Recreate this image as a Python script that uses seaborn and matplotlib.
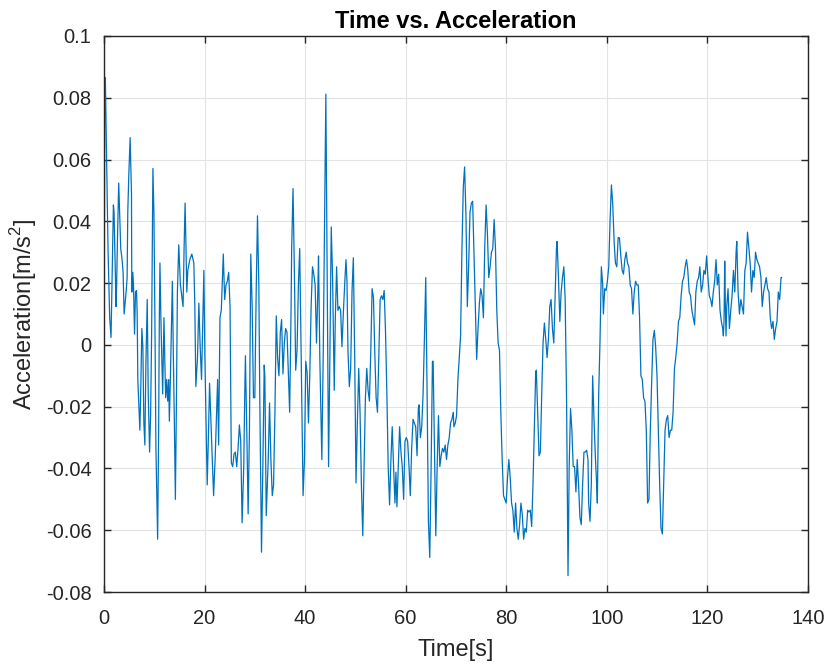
import matplotlib
matplotlib.use("Agg")
import matplotlib.pyplot as plt
import seaborn as sns
import pandas as pd
from matplotlib.ticker import FixedLocator, FuncFormatter

time_s = [
    0.0, 0.15, 0.27, 0.8, 1.13, 1.4, 1.87, 2.0, 2.4, 2.53, 2.67, 2.93, 3.13, 3.33, 3.6, 3.8, 4.0, 4.13, 4.4, 4.6,
    4.73, 4.93, 5.2, 5.47, 5.53, 5.73, 5.87, 6.07, 6.27, 6.47, 6.6, 6.73, 6.93, 7.13, 7.27, 7.53, 7.73, 7.93, 8.13, 8.33,
    8.6, 8.8, 9.07, 9.27, 9.47, 9.73, 9.93, 10.13, 10.33, 10.67, 10.87, 11.0, 11.13, 11.33, 11.67, 11.93, 12.13, 12.27, 12.47, 12.67,
    12.87, 13.0, 13.2, 13.6, 13.8, 14.0, 14.2, 14.4, 14.6, 14.87, 15.2, 15.47, 15.73, 15.93, 16.13, 16.33, 16.47, 16.67, 17.07, 17.47,
    17.87, 18.07, 18.27, 18.6, 18.87, 19.13, 19.4, 19.87, 20.07, 20.4, 20.53, 20.8, 21.0, 21.33, 21.8, 22.13, 22.6, 22.8, 23.07, 23.33,
    23.73, 24.0, 24.27, 24.53, 24.8, 25.07, 25.33, 25.6, 25.87, 26.13, 26.4, 26.67, 26.93, 27.2, 27.47, 27.8, 28.0, 28.13, 28.4, 28.67,
    28.93, 29.2, 29.47, 29.73, 30.0, 30.27, 30.53, 30.8, 31.0, 31.33, 31.6, 31.87, 32.0, 32.27, 32.67, 32.93, 33.2, 33.47, 33.73, 34.0,
    34.27, 34.53, 34.8, 35.07, 35.33, 35.6, 35.87, 36.13, 36.4, 36.67, 36.93, 37.2, 37.33, 37.6, 37.87, 38.13, 38.4, 38.67, 38.93, 39.2,
    39.6, 39.87, 40.13, 40.4, 40.67, 40.93, 41.2, 41.47, 41.73, 42.0, 42.27, 42.53, 42.67, 42.93, 43.33, 43.6, 43.87, 44.13, 44.4, 44.67,
    44.93, 45.2, 45.47, 45.8, 46.0, 46.27, 46.53, 46.8, 47.07, 47.33, 47.6, 47.87, 48.13, 48.33, 48.53, 48.8, 49.07, 49.33, 49.6, 49.87,
    50.13, 50.4, 50.67, 50.93, 51.2, 51.47, 51.73, 52.0, 52.27, 52.53, 52.8, 53.07, 53.33, 53.6, 53.87, 54.13, 54.4, 54.67, 54.93, 55.2,
    55.47, 55.73, 56.0, 56.27, 56.53, 56.8, 57.07, 57.33, 57.6, 57.87, 58.07, 58.27, 58.53, 58.8, 59.07, 59.33, 59.6, 59.87, 60.13, 60.4,
    60.67, 60.93, 61.2, 61.47, 61.73, 62.0, 62.27, 62.53, 62.67, 62.93, 63.2, 63.47, 63.73, 64.0, 64.27, 64.53, 64.8, 65.07, 65.33, 65.47,
    65.73, 66.0, 66.27, 66.53, 66.8, 67.07, 67.33, 67.6, 67.87, 68.13, 68.4, 68.67, 68.93, 69.2, 69.47, 69.6, 69.87, 70.13, 70.4, 70.67,
    70.93, 71.2, 71.47, 71.73, 72.0, 72.27, 72.53, 72.8, 73.07, 73.33, 73.6, 73.87, 74.13, 74.4, 74.67, 74.93, 75.2, 75.47, 75.73, 76.0,
    76.27, 76.53, 76.8, 77.07, 77.33, 77.6, 77.87, 78.13, 78.4, 78.67, 78.93, 79.2, 79.47, 79.73, 80.0, 80.27, 80.53, 80.8, 81.07, 81.33,
    81.6, 81.87, 82.13, 82.4, 82.67, 82.93, 83.2, 83.47, 83.73, 84.0, 84.27, 84.53, 84.8, 85.07, 85.33, 85.6, 85.87, 86.0, 86.27, 86.53,
    86.8, 87.07, 87.33, 87.6, 87.87, 88.13, 88.4, 88.67, 88.93, 89.2, 89.47, 89.73, 90.0, 90.13, 90.4, 90.67, 90.93, 91.2, 91.47, 91.73,
    92.0, 92.3, 92.53, 92.8, 93.07, 93.33, 93.6, 93.87, 94.13, 94.4, 94.67, 94.93, 95.2, 95.47, 95.73, 96.0, 96.27, 96.4, 96.67, 96.93,
    97.2, 97.47, 97.73, 98.0, 98.13, 98.4, 98.67, 98.93, 99.2, 99.33, 99.6, 99.87, 100.13, 100.4, 100.67, 100.93, 101.2, 101.47, 101.73, 102.0,
    102.27, 102.53, 102.8, 103.07, 103.33, 103.6, 103.87, 104.13, 104.4, 104.67, 104.93, 105.2, 105.47, 105.73, 106.0, 106.27, 106.53, 106.8, 107.07, 107.33,
    107.6, 107.87, 108.13, 108.4, 108.67, 108.93, 109.2, 109.47, 109.73, 110.0, 110.27, 110.53, 110.8, 111.07, 111.33, 111.6, 111.87, 112.13, 112.4, 112.67,
    112.93, 113.2, 113.47, 113.73, 114.0, 114.27, 114.53, 114.8, 115.07, 115.33, 115.6, 115.87, 116.13, 116.4, 116.67, 116.93, 117.2, 117.47, 117.73, 118.0,
    118.27, 118.53, 118.8, 119.07, 119.33, 119.6, 119.87, 120.13, 120.4, 120.67, 120.93, 121.2, 121.47, 121.73, 122.0, 122.27, 122.53, 122.8, 123.07, 123.2,
    123.33, 123.47, 123.6, 123.73, 123.87, 124.13, 124.4, 124.67, 124.93, 125.2, 125.47, 125.73, 125.87, 126.13, 126.4, 126.67, 126.93, 127.2, 127.47, 127.73,
    128.0, 128.27, 128.53, 128.8, 129.07, 129.33, 129.6, 129.87, 130.13, 130.4, 130.67, 130.93, 131.2, 131.47, 131.73, 132.0, 132.27, 132.53, 132.8, 133.07,
    133.33, 133.6, 133.87, 134.13, 134.4, 134.67, 134.8,
]

acceleration = [
    -0.031, 0.086, 0.0865, 0.0312, 0.0088, 0.0024, 0.0453, 0.0429, 0.0124, 0.0206, 0.0335, 0.0524, 0.0412, 0.0312, 0.0276, 0.0235, 0.0100, 0.0124, 0.0171, 0.0218,
    0.0429, 0.0547, 0.0671, 0.0488, 0.0171, 0.0235, 0.0194, 0.0035, 0.0171, 0.0176, 0.0100, -0.0112, -0.0194, -0.0276, -0.0182, 0.0053, -0.0006, -0.0253, -0.0324, -0.0065,
    0.0147, -0.0159, -0.0347, -0.0229, 0.0029, 0.0571, 0.0429, 0.0076, -0.0335, -0.0629, -0.0276, 0.0076, 0.0265, 0.0076, -0.0159, 0.0088, -0.0076, -0.0171, -0.0112, -0.0182,
    -0.0112, -0.0247, -0.0112, 0.0206, -0.0041, -0.0253, -0.0500, -0.0194, 0.0171, 0.0324, 0.0194, 0.0159, 0.0124, 0.0312, 0.0459, 0.0300, 0.0171, 0.0241, 0.0276, 0.0294,
    0.0265, 0.0124, -0.0135, -0.0041, 0.0135, -0.0006, -0.0112, 0.0241, -0.0041, -0.0347, -0.0453, -0.0276, -0.0124, -0.0276, -0.0488, -0.0359, -0.0112, -0.0324, 0.0088, 0.0112,
    0.0294, 0.0147, 0.0194, 0.0206, 0.0235, 0.0124, -0.0382, -0.0394, -0.0353, -0.0347, -0.0394, -0.0335, -0.0259, -0.0312, -0.0576, -0.0394, -0.0159, -0.0035, -0.0276, -0.0547,
    -0.0276, 0.0294, 0.0124, -0.0171, -0.0171, 0.0171, 0.0418, 0.0194, -0.0194, -0.0671, -0.0394, -0.0065, -0.0106, -0.0553, -0.0371, -0.0188, -0.0371, -0.0488, -0.0453, -0.0218,
    0.0094, -0.0041, -0.0100, 0.0041, 0.0082, -0.0094, 0.0006, 0.0053, 0.0041, -0.0088, -0.0218, 0.0100, 0.0312, 0.0506, 0.0241, -0.0082, -0.0018, 0.0194, 0.0312, -0.0006,
    -0.0488, -0.0376, -0.0053, -0.0088, -0.0253, -0.0100, 0.0124, 0.0253, 0.0229, 0.0194, 0.0006, 0.0171, 0.0288, -0.0041, -0.0371, -0.0041, 0.0382, 0.0812, 0.0194, -0.0394,
    -0.0041, 0.0382, 0.0218, -0.0147, 0.0076, 0.0253, 0.0112, 0.0124, 0.0112, -0.0006, 0.0100, 0.0194, 0.0276, 0.0206, -0.0018, -0.0135, -0.0076, 0.0171, 0.0282, -0.0041,
    -0.0447, -0.0247, -0.0076, -0.0218, -0.0453, -0.0618, -0.0394, -0.0171, -0.0076, -0.0147, -0.0182, -0.0018, 0.0182, 0.0153, -0.0029, -0.0171, -0.0218, -0.0029, 0.0147, 0.0159,
    0.0147, 0.0176, 0.0041, -0.0159, -0.0394, -0.0518, -0.0371, -0.0265, -0.0394, -0.0512, -0.0412, -0.0524, -0.0394, -0.0265, -0.0347, -0.0394, -0.0500, -0.0312, -0.0300, -0.0312,
    -0.0394, -0.0488, -0.0335, -0.0241, -0.0253, -0.0265, -0.0359, -0.0206, -0.0194, -0.0300, -0.0265, -0.0159, 0.0018, 0.0218, -0.0159, -0.0571, -0.0688, -0.0394, -0.0053, -0.0053,
    -0.0335, -0.0618, -0.0394, -0.0229, -0.0394, -0.0359, -0.0335, -0.0347, -0.0324, -0.0371, -0.0324, -0.0300, -0.0253, -0.0241, -0.0218, -0.0265, -0.0253, -0.0229, -0.0112, -0.0041,
    0.0029, 0.0312, 0.0512, 0.0576, 0.0418, 0.0124, 0.0253, 0.0429, 0.0459, 0.0465, 0.0288, 0.0112, -0.0047, 0.0053, 0.0135, 0.0182, 0.0159, 0.0088, 0.0312, 0.0453,
    0.0359, 0.0218, 0.0253, 0.0300, 0.0312, 0.0406, 0.0312, 0.0112, 0.0006, -0.0018, -0.0218, -0.0371, -0.0488, -0.0500, -0.0512, -0.0429, -0.0371, -0.0429, -0.0512, -0.0535,
    -0.0606, -0.0512, -0.0594, -0.0629, -0.0582, -0.0512, -0.0547, -0.0629, -0.0594, -0.0606, -0.0535, -0.0541, -0.0535, -0.0588, -0.0453, -0.0276, -0.0088, -0.0082, -0.0218, -0.0359,
    -0.0347, -0.0159, 0.0006, 0.0071, 0.0018, -0.0041, 0.0018, 0.0124, 0.0147, 0.0053, 0.0006, 0.0159, 0.0312, 0.0335, 0.0218, 0.0076, 0.0171, 0.0218, 0.0253, 0.0147,
    -0.0159, -0.0747, -0.0394, -0.0206, -0.0276, -0.0394, -0.0394, -0.0476, -0.0371, -0.0453, -0.0559, -0.0582, -0.0453, -0.0347, -0.0347, -0.0341, -0.0371, -0.0512, -0.0571, -0.0453,
    -0.0100, -0.0241, -0.0359, -0.0453, -0.0512, -0.0159, 0.0018, 0.0253, 0.0194, 0.0100, 0.0182, 0.0176, 0.0206, 0.0253, 0.0406, 0.0518, 0.0453, 0.0335, 0.0265, 0.0253,
    0.0347, 0.0347, 0.0288, 0.0241, 0.0229, 0.0276, 0.0300, 0.0265, 0.0253, 0.0194, 0.0182, 0.0100, 0.0171, 0.0206, 0.0194, 0.0194, 0.0088, -0.0100, -0.0112, -0.0171,
    -0.0182, -0.0276, -0.0512, -0.0500, -0.0276, -0.0124, 0.0018, 0.0047, -0.0006, -0.0100, -0.0276, -0.0453, -0.0594, -0.0612, -0.0453, -0.0276, -0.0241, -0.0229, -0.0300, -0.0276,
    -0.0276, -0.0218, -0.0076, -0.0041, 0.0006, 0.0076, 0.0088, 0.0159, 0.0206, 0.0218, 0.0253, 0.0276, 0.0241, 0.0171, 0.0159, 0.0112, 0.0088, 0.0065, 0.0171, 0.0206,
    0.0218, 0.0253, 0.0171, 0.0194, 0.0241, 0.0229, 0.0288, 0.0218, 0.0159, 0.0147, 0.0124, 0.0171, 0.0206, 0.0276, 0.0194, 0.0229, 0.0112, 0.0076, 0.0053, 0.0029,
    0.0076, 0.0271, 0.0124, 0.0029, 0.0124, 0.0182, 0.0053, 0.0112, 0.0159, 0.0241, 0.0171, 0.0300, 0.0335, 0.0171, 0.0100, 0.0147, 0.0124, 0.0100, 0.0241, 0.0265,
    0.0365, 0.0312, 0.0265, 0.0171, 0.0241, 0.0218, 0.0300, 0.0276, 0.0265, 0.0253, 0.0218, 0.0124, 0.0171, 0.0194, 0.0218, 0.0182, 0.0171, 0.0088, 0.0053, 0.0076,
    0.0018, 0.0053, 0.0076, 0.0171, 0.0147, 0.0218, 0.0218,
]

x_ticks = [0, 20, 40, 60, 80, 100, 120, 140]
y_ticks = [-0.08, -0.06, -0.04, -0.02, 0, 0.02, 0.04, 0.06, 0.08, 0.1]

df = pd.DataFrame({"Time": time_s, "Acceleration": acceleration})

sns.set_theme(style="white")
plt.rcParams["font.family"] = ["Liberation Sans", "DejaVu Sans"]
plt.rcParams["mathtext.fontset"] = "custom"
plt.rcParams["mathtext.rm"] = "Liberation Sans"
plt.rcParams["axes.unicode_minus"] = False

fig = plt.figure(figsize=(8.26, 6.64), dpi=100)
ax = fig.add_axes([0.1259, 0.1084, 0.8521, 0.8374])

sns.lineplot(data=df, x="Time", y="Acceleration", ax=ax, color="#0072BD",
             linewidth=0.9, sort=False, estimator=None)

ax.set_xlim(0, 140)
ax.set_ylim(-0.08, 0.1)
ax.xaxis.set_major_locator(FixedLocator(x_ticks))
ax.yaxis.set_major_locator(FixedLocator(y_ticks))
ax.yaxis.set_major_formatter(FuncFormatter(lambda v, p: "%g" % round(v, 4)))
ax.xaxis.set_major_formatter(FuncFormatter(lambda v, p: "%g" % v))

ax.grid(True, color="#e3e3e3", linewidth=0.8)
ax.set_axisbelow(True)
for s in ax.spines.values():
    s.set_color("#262626")
    s.set_linewidth(1.0)
ax.tick_params(direction="in", length=5, width=1.0, color="#262626",
               labelsize=14.5, labelcolor="#262626", top=True, right=True,
               bottom=True, left=True)
ax.tick_params(axis="y", pad=9)
ax.tick_params(axis="x", pad=12)

ax.set_xlabel("Time[s]", fontsize=17, color="#262626", labelpad=8)
ax.set_ylabel("Acceleration[m/s$^\\mathregular{2}$]", fontsize=17, color="#262626", labelpad=5)
ax.set_title("Time vs. Acceleration", fontsize=17, fontweight="bold", color="black", pad=6)

fig.savefig("out.png", dpi=100, facecolor="white")
